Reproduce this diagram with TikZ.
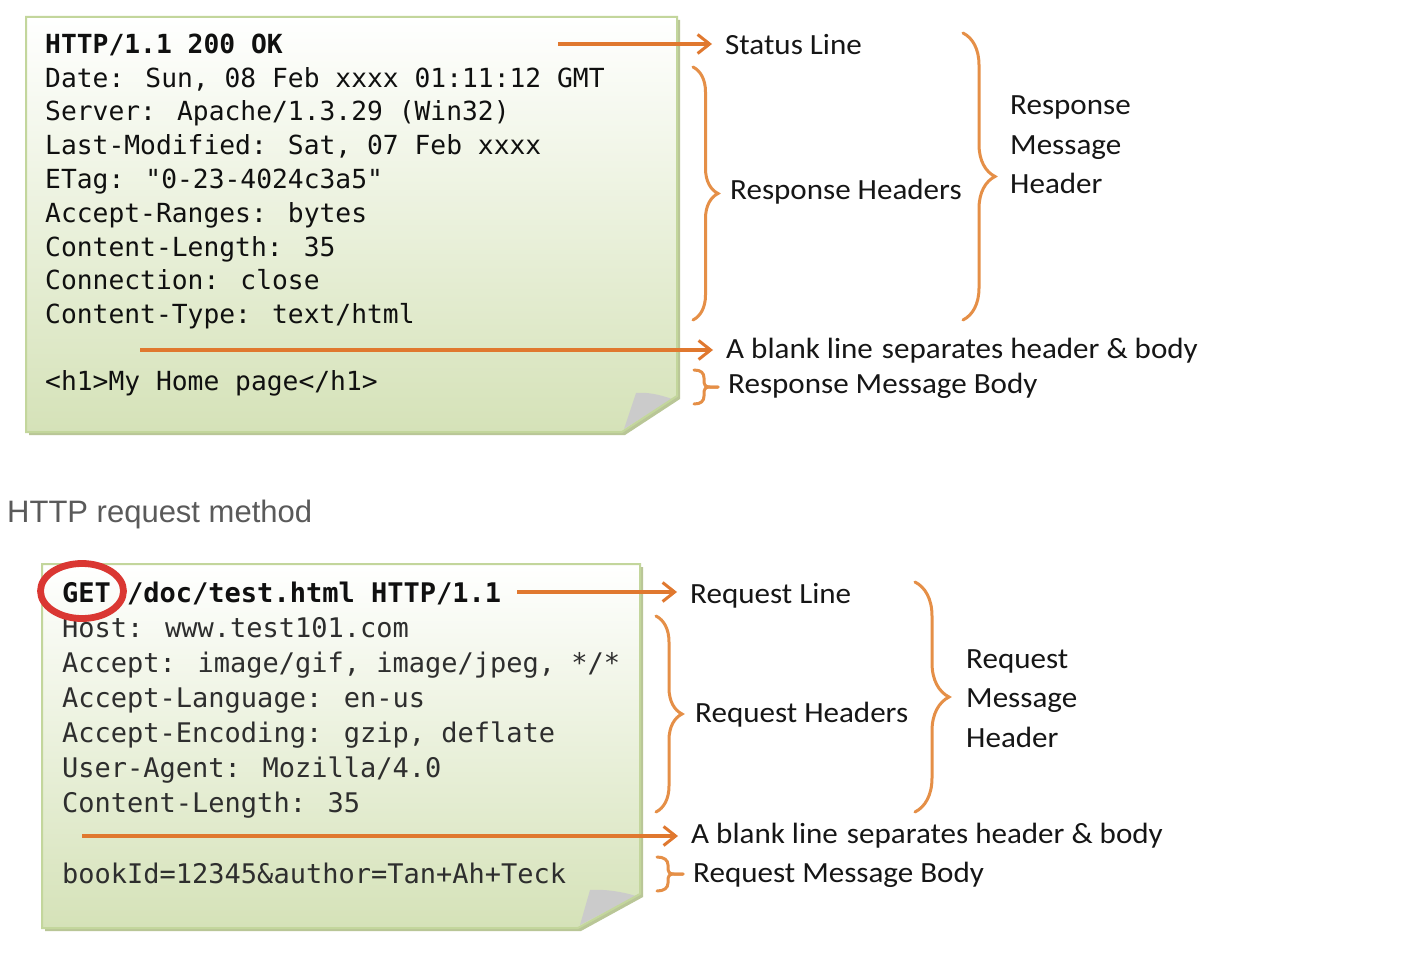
\documentclass[tikz,border=0pt]{standalone}
\usepackage{fontspec}
\setmainfont{Carlito}[FakeStretch=1.06]
\newfontfamily\monof{DejaVu Sans Mono}
\newfontfamily\arialf{Liberation Sans}
\usetikzlibrary{arrows.meta,decorations.pathreplacing}

\definecolor{arrowc}{HTML}{E0782F}
\definecolor{bracec}{HTML}{E58F47}
\definecolor{boxedge}{HTML}{C3D69C}
\definecolor{boxfill}{HTML}{D5E2B8}
\definecolor{boxmid}{HTML}{E6EED4}
\definecolor{boxshadow}{HTML}{B9C697}
\definecolor{foldc}{HTML}{CBCBCB}
\definecolor{ringc}{HTML}{DA3732}
\definecolor{labc}{HTML}{161616}
\definecolor{codec}{HTML}{101010}
\definecolor{codeb}{HTML}{2E2E2E}
\definecolor{capc}{HTML}{5A5A5A}

\begin{document}
\begin{tikzpicture}[x=1pt,y=-1pt,
  code/.style={anchor=base west,inner sep=0pt,font=\monof\fontsize{26.3}{30}\selectfont,text=codec},
  codeB/.style={anchor=base west,inner sep=0pt,font=\monof\fontsize{27}{30}\selectfont,text=codeb},
  lab/.style={anchor=base west,inner sep=0pt,font=\fontsize{29.3}{32}\selectfont,text=labc},
  pointer/.style={draw=arrowc,line width=3.3pt,shorten >=13pt,
    -{Straight Barb[length=12pt,width=19pt,line width=3pt]}},
  bracket/.style={draw=bracec,line width=3pt,line cap=round,decorate,
    decoration={brace,amplitude=#1}},
  bracketS/.style={draw=bracec,line width=3pt,line cap=round},
  notefill/.style={top color=white,middle color=boxmid,bottom color=boxfill},
  noteedge/.style={draw=boxedge,line width=2pt,line join=miter},
]
\fill[white] (0,0) rectangle (1416,960);
\useasboundingbox (0,0) rectangle (1416,960);

% ---------------- response note ----------------
\fill[boxshadow,shift={(3,3)}] (26,17) -- (677,17) -- (677,396) -- (622,432) -- (26,432) -- cycle;
\path[notefill] (26,17) -- (677,17) -- (677,396) -- (622,432) -- (26,432) -- cycle;
\fill[foldc] (672,399) .. controls (658,394) and (646,392) .. (636,393) -- (624,429) -- cycle;
\path[noteedge] (26,17) -- (677,17) -- (677,396) -- (622,432) -- (26,432) -- cycle;

\node[code,font=\monof\bfseries\fontsize{26.3}{30}\selectfont] (r1) at (45,53.3) {HTTP/1.1 200 OK};
\node[code] (r2) at (45,87.1) {Date: Sun, 08 Feb xxxx 01:11:12 GMT};
\node[code] (r3) at (45,120.9) {Server: Apache/1.3.29 (Win32)};
\node[code] (r4) at (45,154.7) {Last-Modified: Sat, 07 Feb xxxx};
\node[code] (r5) at (45,188.5) {ETag: "0-23-4024c3a5"};
\node[code] (r6) at (45,222.3) {Accept-Ranges: bytes};
\node[code] (r7) at (45,256.1) {Content-Length: 35};
\node[code] (r8) at (45,289.9) {Connection: close};
\node[code] (r9) at (45,323.7) {Content-Type: text/html};
\node[code] (r10) at (45,390.5) {<h1>My Home page</h1>};

\node[lab] (statusL) at (725,55) {Status Line};
\node[lab] (respH) at (730,200) {Response Headers};
\node[lab] (respM1) at (1010,115) {Response};
\node[lab] (respM2) at (1010,155) {Message};
\node[lab] (respM3) at (1010,194) {Header};
\node[lab] (blankR) at (726,358) {A blank line\hspace{2pt} separates header \& body};
\node[lab] (respB) at (728,393) {Response Message Body};

\coordinate (ra1) at (558,44);
\coordinate (ra2) at (140,350);
\draw[pointer] (ra1) -- (ra1 -| statusL.west);
\draw[pointer] (ra2) -- (ra2 -| blankR.west);

\coordinate (rb1t) at (693,67);  \coordinate (rb1b) at (693,320);
\coordinate (rb2t) at (963,33);  \coordinate (rb2b) at (963,320);
\coordinate (rb3t) at (694,370); \coordinate (rb3b) at (694,404);
\draw[bracket=25] (rb1t) -- (rb1b);
\draw[bracket=32] (rb2t) -- (rb2b);
\draw[bracketS] (rb3t) .. controls +(7,0) and +(0,-5) .. ++(10,8) -- ++(0,2)
   .. controls +(0,5) and +(-5,0) .. ++(6,7) -- ++(8,0);
\draw[bracketS] (rb3b) .. controls +(7,0) and +(0,5) .. ++(10,-8) -- ++(0,-2)
   .. controls +(0,-5) and +(-5,0) .. ++(6,-7) -- ++(8,0);

% ---------------- caption ----------------
\node[anchor=base west,inner sep=0pt,font=\arialf\fontsize{31}{34}\selectfont,text=capc] (cap) at (7,522) {HTTP request method};

% ---------------- request note ----------------
\fill[boxshadow,shift={(3,3)}] (42,564) -- (640,564) -- (640,894) -- (578,928) -- (42,928) -- cycle;
\path[notefill] (42,564) -- (640,564) -- (640,894) -- (578,928) -- (42,928) -- cycle;
\fill[foldc] (636,896) .. controls (620,891) and (602,889) .. (590,890) -- (580,925) -- cycle;
\path[noteedge] (42,564) -- (640,564) -- (640,894) -- (578,928) -- (42,928) -- cycle;

\node[codeB,font=\monof\bfseries\fontsize{27}{30}\selectfont,text=codec] (q1) at (62,602) {GET /doc/test.html HTTP/1.1};
\node[codeB] (q2) at (62,637.1) {Host: www.test101.com};
\node[codeB] (q3) at (62,672.2) {Accept: image/gif, image/jpeg, */*};
\node[codeB] (q4) at (62,707.3) {Accept-Language: en-us};
\node[codeB] (q5) at (62,742.4) {Accept-Encoding: gzip, deflate};
\node[codeB] (q6) at (62,777.5) {User-Agent: Mozilla/4.0};
\node[codeB] (q7) at (62,812.6) {Content-Length: 35};
\node[codeB] (q8) at (62,883) {bookId=12345\&author=Tan+Ah+Teck};

\draw[ringc,line width=6.8pt] (82,591) ellipse [x radius=41.5pt, y radius=27.5pt];

\node[lab] (reqL) at (690,603) {Request Line};
\node[lab] (reqH) at (695,722) {Request Headers};
\node[lab] (reqM1) at (966,668) {Request};
\node[lab] (reqM2) at (966,707) {Message};
\node[lab] (reqM3) at (966,747) {Header};
\node[lab] (blankQ) at (691,843) {A blank line\hspace{2pt} separates header \& body};
\node[lab] (reqB) at (693,882) {Request Message Body};

\coordinate (qa1) at (517,592);
\coordinate (qa2) at (82,836);
\draw[pointer] (qa1) -- (qa1 -| reqL.west);
\draw[pointer] (qa2) -- (qa2 -| blankQ.west);

\coordinate (qb1t) at (656,616); \coordinate (qb1b) at (656,812);
\coordinate (qb2t) at (915,582); \coordinate (qb2b) at (915,812);
\coordinate (qb3t) at (657,857); \coordinate (qb3b) at (657,891);
\draw[bracket=26] (qb1t) -- (qb1b);
\draw[bracket=34] (qb2t) -- (qb2b);
\draw[bracketS] (qb3t) .. controls +(7,0) and +(0,-5) .. ++(11,8) -- ++(0,2)
   .. controls +(0,5) and +(-5,0) .. ++(6,7) -- ++(9,0);
\draw[bracketS] (qb3b) .. controls +(7,0) and +(0,5) .. ++(11,-8) -- ++(0,-2)
   .. controls +(0,-5) and +(-5,0) .. ++(6,-7) -- ++(9,0);
\end{tikzpicture}
\end{document}
